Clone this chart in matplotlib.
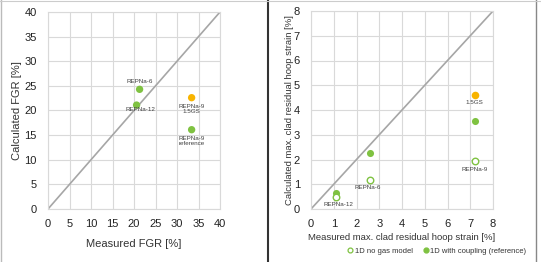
import matplotlib.pyplot as plt
from matplotlib.lines import Line2D

# left panel: fission gas release
fgr_names = ["REPNa-6", "REPNa-12", "REPNa-9\n1.5GS", "REPNa-9\nreference"]
fgr_meas = [21.3, 20.6, 33.4, 33.4]
fgr_calc = [24.3, 21.1, 22.6, 16.1]
fgr_colors = ["#7fc241", "#7fc241", "#f8b400", "#7fc241"]

# right panel: clad residual hoop strain
strain_meas = [1.1, 2.6, 7.2]
strain_nogas = [0.5, 1.17, 1.93]
strain_coupling = [0.65, 2.27, 3.55]
strain_15gs_x = [7.2]
strain_15gs_y = [4.62]

green = "#7fc241"
orange = "#f8b400"
grid_c = "#d9d9d9"
diag_c = "#a6a6a6"
txt_c = "#404040"

plt.rcParams.update({'font.size': 8, 'font.family': ['Liberation Sans', 'DejaVu Sans']})
fig = plt.figure(figsize=(5.41, 2.62), dpi=100)

def style(ax, lim, step):
    ax.set_xlim(0, lim)
    ax.set_ylim(0, lim)
    ticks = list(range(0, lim + 1, step))
    ax.set_xticks(ticks)
    ax.set_yticks(ticks)
    ax.grid(True, color=grid_c, lw=0.8)
    ax.set_axisbelow(True)
    for s in ax.spines.values():
        s.set_color(grid_c)
        s.set_linewidth(0.8)
    ax.tick_params(axis="x", length=0, colors="#222222", labelsize=8, pad=7)
    ax.tick_params(axis="y", length=0, colors="#222222", labelsize=8, pad=8)
    ax.plot([0, lim], [0, lim], color=diag_c, lw=1.2, zorder=2)

ax1 = fig.add_axes([48 / 541, 1 - 209 / 262, 172 / 541, 197 / 262])
style(ax1, 40, 5)
ax1.scatter(fgr_meas, fgr_calc, s=28, c=fgr_colors, zorder=3, linewidths=0)
ax1.set_xlabel("Measured FGR [%]", color="#333333", fontsize=8, labelpad=7.5)
ax1.set_ylabel("Calculated FGR [%]", color="#333333", fontsize=8, labelpad=2)
ax1.text(fgr_meas[0], fgr_calc[0] + 1.1, fgr_names[0], fontsize=4.5, color=txt_c, ha="center", va="bottom")
ax1.text(fgr_meas[1] + 1.0, fgr_calc[1] - 0.4, fgr_names[1], fontsize=4.5, color=txt_c, ha="center", va="top")
ax1.text(fgr_meas[2], fgr_calc[2] - 1.3, fgr_names[2], fontsize=4.5, color=txt_c, ha="center", va="top", linespacing=1.0)
ax1.text(fgr_meas[3], fgr_calc[3] - 1.3, fgr_names[3], fontsize=4.5, color=txt_c, ha="center", va="top", linespacing=1.0)

ax2 = fig.add_axes([311 / 541, 1 - 209 / 262, 182 / 541, 198 / 262])
style(ax2, 8, 1)
ax2.scatter(strain_meas, strain_coupling, s=26, c=green, zorder=3, linewidths=0)
ax2.scatter(strain_meas, strain_nogas, s=22, facecolors="white", edgecolors=green, linewidths=1.0, zorder=3)
ax2.scatter(strain_15gs_x, strain_15gs_y, s=30, c=orange, zorder=3, linewidths=0)
ax2.set_xlabel("Measured max. clad residual hoop strain [%]", color="#333333", fontsize=6.8, labelpad=3)
ax2.set_ylabel("Calculated max. clad residual hoop strain [%]", color="#333333", fontsize=6.8, labelpad=0)
ax2.text(strain_15gs_x[0], strain_15gs_y[0] - 0.22, "1.5GS", fontsize=4.5, color=txt_c, ha="center", va="top")
ax2.text(strain_meas[2], strain_nogas[2] - 0.22, "REPNa-9", fontsize=4.5, color=txt_c, ha="center", va="top")
ax2.text(strain_meas[1] - 0.1, strain_nogas[1] - 0.22, "REPNa-6", fontsize=4.5, color=txt_c, ha="center", va="top")
ax2.text(strain_meas[0] + 0.1, strain_nogas[0] - 0.22, "REPNa-12", fontsize=4.5, color=txt_c, ha="center", va="top")

handles = [
    Line2D([], [], marker="o", ls="", mfc="white", mec=green, ms=3.5, mew=0.9),
    Line2D([], [], marker="o", ls="", mfc=green, mec=green, ms=3.5),
]
fig.legend(handles, ["1D no gas model", "1D with coupling (reference)"],
           loc="lower right", bbox_to_anchor=(533 / 541, 0.0), ncol=2, frameon=False,
           fontsize=5.5, handletextpad=0.1, columnspacing=1.2, labelcolor="#333333",
           handlelength=1.0)

# panel borders
fig.add_artist(Line2D([268 / 541, 268 / 541], [0, 1], color="#333333", lw=1.5))
fig.add_artist(Line2D([536 / 541, 536 / 541], [0, 1], color="#888888", lw=1.0))
fig.add_artist(Line2D([1 / 541, 1 / 541], [0, 1], color="#bbbbbb", lw=1.0))
fig.add_artist(Line2D([0, 1], [261.5 / 262, 261.5 / 262], color="#cccccc", lw=0.8))

plt.savefig("out.png", dpi=100)
